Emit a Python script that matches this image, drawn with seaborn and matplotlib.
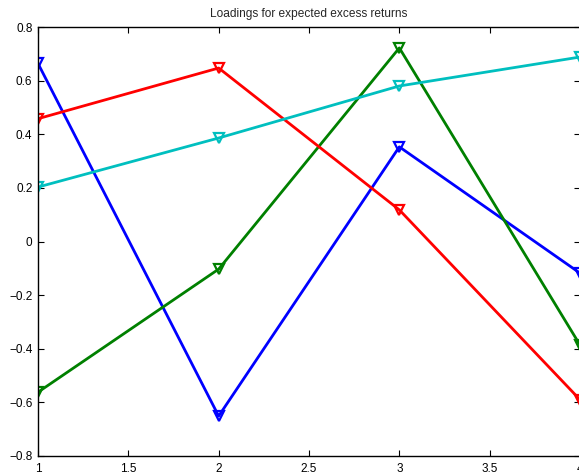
import numpy as np
import pandas as pd
import matplotlib
matplotlib.use("Agg")
import matplotlib.pyplot as plt
import seaborn as sns

# Factor loadings on expected excess returns, by maturity index
maturity = [1, 2, 3, 4]
factor_1 = [0.664, -0.651, 0.353, -0.118]
factor_2 = [-0.562, -0.103, 0.722, -0.386]
factor_3 = [0.458, 0.647, 0.118, -0.590]
factor_4 = [0.203, 0.386, 0.580, 0.688]

factor_names = ["f1", "f2", "f3", "f4"]
factor_colors = ["#0000ff", "#008000", "#ff0000", "#00bfbf"]

x_ticks = [1, 1.5, 2, 2.5, 3, 3.5, 4]
y_ticks = [-0.8, -0.6, -0.4, -0.2, 0, 0.2, 0.4, 0.6, 0.8]

df = pd.DataFrame({
    "maturity": maturity * 4,
    "loading": factor_1 + factor_2 + factor_3 + factor_4,
    "factor": [n for n in factor_names for _ in maturity],
})

sns.set_theme(style="white")
plt.rcParams["font.family"] = ["Liberation Sans", "DejaVu Sans"]

fig = plt.figure(figsize=(5.79, 4.74), dpi=100)
ax = fig.add_axes([38 / 579, 18 / 474, 542 / 579, 429 / 474])

for name, color in zip(factor_names, factor_colors):
    sns.lineplot(
        data=df[df["factor"] == name], x="maturity", y="loading",
        color=color, linewidth=2.0, marker="v", markersize=7.5,
        markerfacecolor="none", markeredgecolor=color, markeredgewidth=1.6,
        ax=ax, legend=False,
    )

ax.set_xlim(1, 4)
ax.set_ylim(-0.8, 0.8)
ax.set_xticks(x_ticks)
ax.set_xticklabels(["1", "1.5", "2", "2.5", "3", "3.5", "4"])
ax.set_yticks(y_ticks)
ax.set_yticklabels(["\u22120.8", "\u22120.6", "\u22120.4", "\u22120.2", "0",
                    "0.2", "0.4", "0.6", "0.8"])
ax.set_xlabel("")
ax.set_ylabel("")
ax.set_title("Loadings for expected excess returns", fontsize=8.6, pad=7)

ax.tick_params(axis="both", which="both", direction="in", length=4, width=0.8,
               top=True, right=True, bottom=True, left=True,
               labelsize=8.5, colors="black")
ax.tick_params(axis="x", pad=5)
ax.tick_params(axis="y", pad=4)
for s in ax.spines.values():
    s.set_color("black")
    s.set_linewidth(1.0)
ax.grid(False)

fig.savefig("out.png", dpi=100, facecolor="white")
